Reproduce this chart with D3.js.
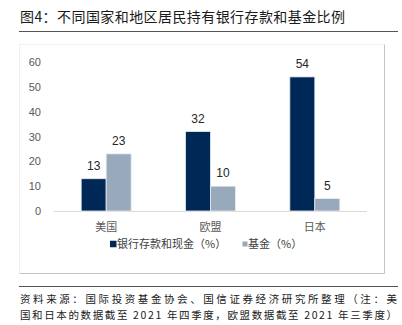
<!DOCTYPE html>
<html>
<head>
<meta charset="utf-8">
<script src="https://cdn.jsdelivr.net/npm/d3@7"></script>
<style>
  html, body { margin: 0; padding: 0; background: #fff; }
  svg { display: block; }
</style>
</head>
<body>
<svg id="chart" width="402" height="325"></svg>
<script>
// Data
const categories = ["美国", "欧盟", "日本"];
const seriesNames = ["银行存款和现金（%）", "基金（%）"];
const depositValues = [13, 32, 54];
const fundValues = [23, 10, 5];
const yTicks = [0, 10, 20, 30, 40, 50, 60];
const titleText = "图4：不同国家和地区居民持有银行存款和基金比例";
const sourceLines = [
  "资料来源：国际投资基金协会、国信证券经济研究所整理（注：美",
  "国和日本的数据截至 2021 年四季度，欧盟数据截至 2021 年三季度）"
];

const colors = ["#002856", "#98a9bb"];
const cjk = "'Noto Sans CJK SC', 'Liberation Sans', sans-serif";
const latin = "'Liberation Sans', Arial, 'Noto Sans CJK SC', sans-serif";

const svg = d3.select("#chart");

// Title and rule
svg.append("text")
  .attr("x", 20).attr("y", 22)
  .attr("font-family", cjk).attr("font-size", 14)
  .attr("fill", "#1a1a1a")
  .attr("textLength", 325).attr("lengthAdjust", "spacing")
  .text(titleText);
svg.append("line")
  .attr("x1", 19).attr("x2", 398).attr("y1", 31.5).attr("y2", 31.5)
  .attr("stroke", "#555").attr("stroke-width", 1.2);

// Chart frame: faint top/left, grey right/bottom
svg.append("path")
  .attr("d", "M19.5,273.5 V44.5 H384.5")
  .attr("fill", "none").attr("stroke", "#f0f0f0");
svg.append("path")
  .attr("d", "M384.5,44.5 V273.5 H19.5")
  .attr("fill", "none").attr("stroke", "#c4c4c4");

// Scales
const x = d3.scaleBand().domain(categories).range([54, 367]);
const y = d3.scaleLinear().domain([0, 60]).range([211, 62]);
const barW = 25;

// Y axis labels
const yAxis = d3.axisLeft(y).tickValues(yTicks).tickSize(0).tickPadding(0);
const yg = svg.append("g").attr("transform", "translate(41,0)").call(yAxis);
yg.select(".domain").remove();
yg.selectAll("text")
  .attr("font-family", latin).attr("font-size", 11)
  .attr("fill", "#595959");

// Baseline
svg.append("line")
  .attr("x1", 54).attr("x2", 367)
  .attr("y1", y(0) + 0.5).attr("y2", y(0) + 0.5)
  .attr("stroke", "#d9d9d9").attr("stroke-width", 1);

// Bars
const series = [depositValues, fundValues];
series.forEach((vals, si) => {
  const g = svg.append("g");
  g.selectAll("rect")
    .data(vals)
    .join("rect")
    .attr("x", (d, i) => x(categories[i]) + x.bandwidth() / 2 - barW + si * barW)
    .attr("y", d => y(d))
    .attr("width", barW)
    .attr("height", d => y(0) - y(d))
    .attr("fill", colors[si])
    .attr("stroke", "#e8edf2").attr("stroke-width", 0.8);
  g.selectAll("text")
    .data(vals)
    .join("text")
    .attr("x", (d, i) => x(categories[i]) + x.bandwidth() / 2 - barW / 2 + si * barW)
    .attr("y", d => y(d) - 9)
    .attr("text-anchor", "middle")
    .attr("font-family", latin).attr("font-size", 12)
    .attr("fill", "#262626")
    .text(d => d);
});

// Category labels
const xAxis = d3.axisBottom(x).tickSize(0).tickPadding(0);
const xg = svg.append("g").attr("transform", `translate(0,${y(0) + 20})`).call(xAxis);
xg.select(".domain").remove();
xg.selectAll("text")
  .attr("dy", 0)
  .attr("font-family", cjk).attr("font-size", 11)
  .attr("fill", "#595959");

// Legend
const legendItems = [
  { name: seriesNames[0], color: colors[0], sx: 110, size: 6.5, tx: 117 },
  { name: seriesNames[1], color: colors[1], sx: 242.5, size: 5, tx: 248 }
];
const lg = svg.append("g");
legendItems.forEach(it => {
  lg.append("rect")
    .attr("x", it.sx).attr("y", 244 - it.size / 2)
    .attr("width", it.size).attr("height", it.size)
    .attr("fill", it.color);
  lg.append("text")
    .attr("x", it.tx).attr("y", 248)
    .attr("font-family", cjk).attr("font-size", 11)
    .attr("fill", "#404040")
    .text(it.name);
});

// Source note, two wrapped lines
svg.append("line")
  .attr("x1", 19).attr("x2", 398).attr("y1", 286.5).attr("y2", 286.5)
  .attr("stroke", "#555").attr("stroke-width", 1.2);
sourceLines.forEach((t, i) => {
  svg.append("text")
    .attr("x", 20).attr("y", 303 + i * 15.5)
    .attr("font-family", cjk).attr("font-size", 10.5)
    .attr("fill", "#1a1a1a")
    .attr("textLength", 377).attr("lengthAdjust", "spacing")
    .text(t);
});
</script>
</body>
</html>
